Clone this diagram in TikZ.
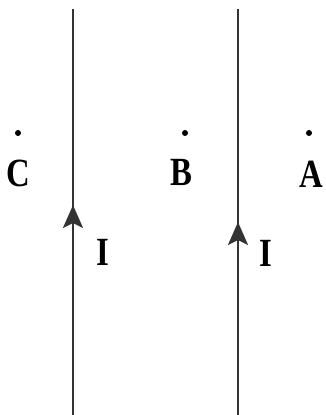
\documentclass[tikz,border=0pt]{standalone}
\usepackage{fontspec}
\setmainfont{Liberation Serif}
\usetikzlibrary{arrows.meta}

\begin{document}
\begin{tikzpicture}[x=1pt,y=1pt,
  wire/.style={draw=black!80,line width=2.6pt},
  current/.style={draw=black!80,line width=2.6pt,
    -{Stealth[length=23pt,width=20pt,inset=5pt]}},
  pointlabel/.style={font=\bfseries\fontsize{40}{40}\selectfont,inner sep=0pt,
    xscale=0.82,transform shape}]
  \useasboundingbox (0,0) rectangle (326,415);
  \coordinate (L1) at (73,0);
  \coordinate (L2) at (73,406);
  \coordinate (R1) at (238,0);
  \coordinate (R2) at (238,406);
  \draw[wire] (L1) -- (L2);
  \draw[wire] (R1) -- (R2);

  % current arrows
  \coordinate (La) at (73,170);
  \coordinate (Lb) at (73,210);
  \coordinate (Ra) at (238,155);
  \coordinate (Rb) at (238,193);
  \draw[current] (La) -- (Lb);
  \draw[current] (Ra) -- (Rb);
  \node[pointlabel] (IL) at (103,163) {I};
  \node[pointlabel] (IR) at (266,162) {I};

  % points
  \coordinate (C) at (18,282);
  \coordinate (B) at (185,282);
  \coordinate (A) at (309,282);
  \fill (C) circle (3pt);
  \fill (B) circle (3pt);
  \fill (A) circle (3pt);
  \node[pointlabel] (labC) at (18,242) {C};
  \node[pointlabel] (labB) at (181,243) {B};
  \node[pointlabel] (labA) at (311,241) {A};

\end{tikzpicture}
\end{document}
